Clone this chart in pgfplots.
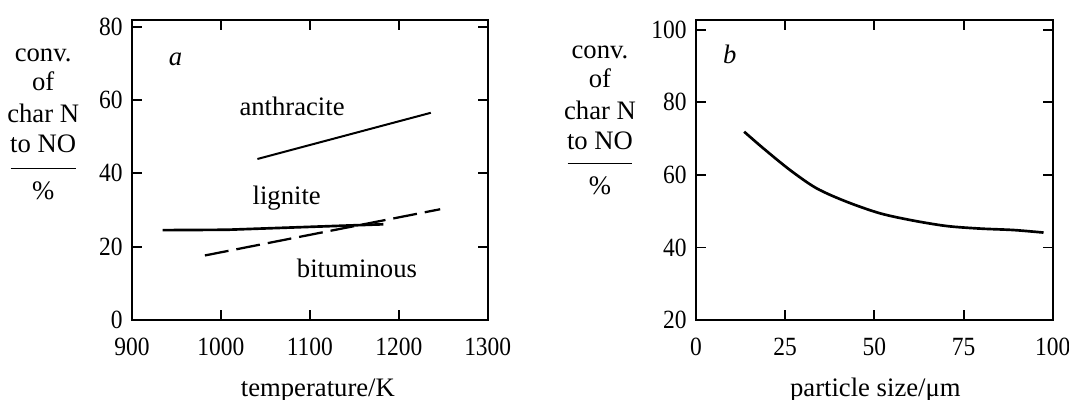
\documentclass[border=0pt]{standalone}
\usepackage{pgfplots}
\pgfplotsset{compat=1.18}
\usepackage{fontspec}
\setmainfont{Liberation Serif}
\begin{document}
\begin{tikzpicture}
\path[use as bounding box] (0pt,0pt) rectangle (400.875pt,150pt);
\pgfplotsset{
  myax/.style={
    scale only axis,
    anchor=south west,
    axis line style={line width=0.7pt},
    every tick/.style={line width=0.7pt, black},
    major tick length=3.8pt,
    tick align=inside,
    /pgf/number format/assume math mode=true,
    /pgf/number format/1000 sep={},
    ticklabel style={font=\fontsize{8.8}{10}\selectfont},
    xticklabel={\scalebox{1}[1.12]{\pgfmathprintnumber{\tick}}},
    yticklabel={\scalebox{1}[1.12]{\pgfmathprintnumber{\tick}}},
    xticklabel style={anchor=base, yshift=-13.5pt},
    label style={font=\fontsize{10}{12}\selectfont},
    xlabel style={at={(axis description cs:0.5,0)}, anchor=base, yshift=-28.6pt},
  }
}
% left panel
\begin{axis}[myax, at={(49.5pt,30pt)}, width=133.4pt, height=112.5pt,
  xmin=900, xmax=1300, ymin=0, ymax=81.8,
  xtick={900,1000,1100,1200,1300}, ytick={0,20,40,60,80},
  xlabel={temperature/K}, xlabel style={xshift=3pt}]
\addplot[black, line width=0.75pt] coordinates {(1041,43.9) (1236,56.5)};
\addplot[black, line width=1pt] coordinates {(934.5,24.5) (1006.5,24.6) (1182.7,26.1)};
\addplot[black, line width=0.85pt, dash pattern=on 9pt off 3pt] coordinates {(982,17.6) (1246.5,30.2)};
\node[font=\fontsize{10}{12}\selectfont\itshape] at (axis cs:949,71.1) {a};
\node[font=\fontsize{10}{12}\selectfont] at (axis cs:1080,58.3) {anthracite};
\node[font=\fontsize{10}{12}\selectfont] at (axis cs:1074,33.1) {lignite};
\node[font=\fontsize{10}{12}\selectfont] at (axis cs:1153,14.0) {bituminous};
\end{axis}
% right panel
\begin{axis}[myax, at={(261pt,30pt)}, width=133.8pt, height=112.5pt,
  xmin=0, xmax=100, ymin=20, ymax=102.7,
  xtick={0,25,50,75,100}, ytick={20,40,60,80,100},
  xlabel={particle size/μm}, xlabel style={xshift=0.35pt}]
\addplot[black, line width=1pt, smooth] coordinates {
 (13.5,71.9) (18.9,67.3) (26.4,61.3) (33.8,56.3) (42.2,52.6) (51.6,49.4)
 (60.9,47.4) (70.3,45.9) (79.6,45.2) (89.0,44.8) (97.4,44.1)};
\node[font=\fontsize{10}{12}\selectfont\itshape] at (axis cs:9.5,93.3) {b};
\end{axis}
% y labels
\begin{scope}[every node/.style={font=\fontsize{10}{12}\selectfont, anchor=base, inner sep=0pt}]
\node at (16.2pt,126.9pt) {conv.};
\node at (16.2pt,116.0pt) {of};
\node at (16.2pt,104.0pt) {char N};
\node at (16.2pt,92.7pt) {to NO};
\draw[line width=0.5pt] (4.0pt,86.9pt) -- (28.4pt,86.9pt);
\node at (16.2pt,75.0pt) {\%};
\node at (225pt,128.1pt) {conv.};
\node at (225pt,117.3pt) {of};
\node at (225pt,105.0pt) {char N};
\node at (225pt,93.75pt) {to NO};
\draw[line width=0.5pt] (212.9pt,88.8pt) -- (237.1pt,88.8pt);
\node at (225pt,76.9pt) {\%};
\end{scope}
\end{tikzpicture}
\end{document}
